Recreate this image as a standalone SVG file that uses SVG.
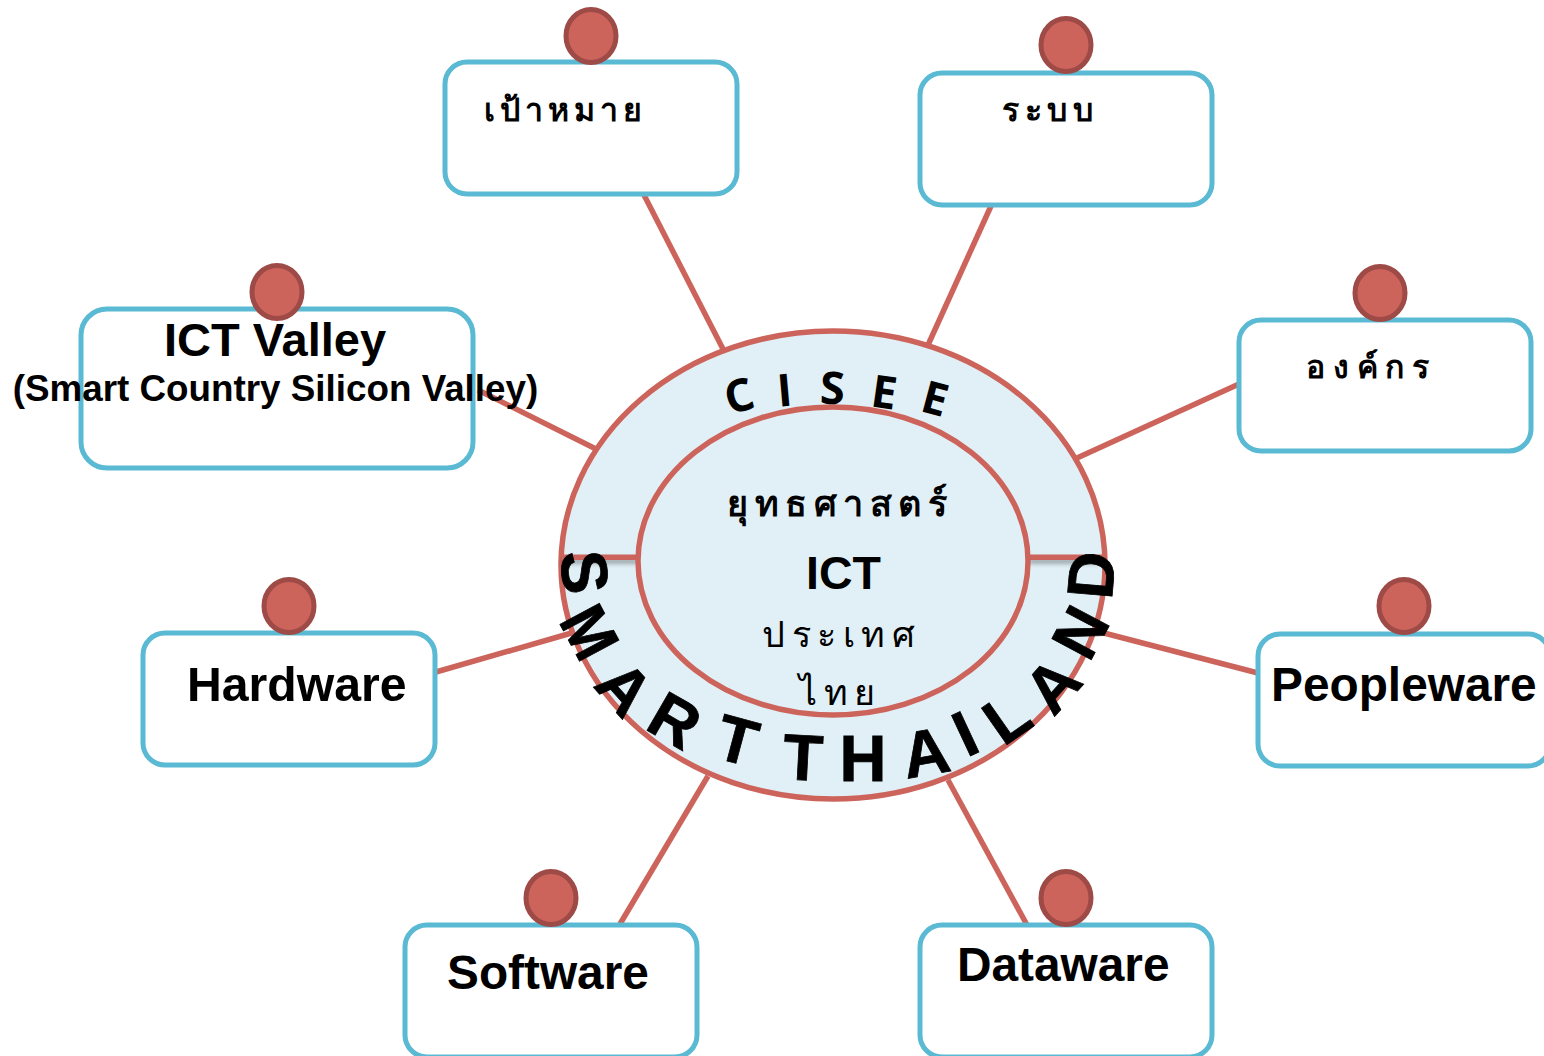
<svg xmlns="http://www.w3.org/2000/svg" width="1544" height="1056" viewBox="0 0 1544 1056">
<defs>
<style>
.box{fill:#fff;stroke:#5ab9d3;stroke-width:5}
.dot{fill:#cc645c;stroke:#9e4a46;stroke-width:5}
.conn{stroke:#cc645c;stroke-width:5.500;fill:none}
.ring{fill:#e1f0f6;stroke:#cc645c;stroke-width:5.500}
.bar{fill:#cc645c}
.en{font-family:"Liberation Sans",Arial,sans-serif;font-weight:700;fill:#000;font-size:47.800px}
.th{font-family:"Noto Sans","DejaVu Sans",Tahoma,sans-serif;font-weight:700;fill:#000;font-size:32px;letter-spacing:5px}
.hub{font-family:"Noto Sans","DejaVu Sans",Tahoma,sans-serif;fill:#000;font-size:36px;letter-spacing:6.500px}
.arc{font-family:"Liberation Sans",Arial,sans-serif;font-weight:700;fill:#000;stroke:#000;stroke-width:.8;font-size:65px;text-anchor:middle}
.top{font-family:"Open Sans",sans-serif;font-weight:700;fill:#000;font-size:45px;text-anchor:middle}
</style>
<filter id="sh" x="-20%" y="-100%" width="140%" height="400%"><feDropShadow dx="0" dy="4" stdDeviation="2" flood-color="#000" flood-opacity=".3"/></filter>
</defs>
<g id="connectors">
<line class="conn" x1="644" y1="195" x2="723" y2="349"/>
<line class="conn" x1="991" y1="206" x2="928" y2="345"/>
<line class="conn" x1="1239" y1="384" x2="1077" y2="458"/>
<line class="conn" x1="478" y1="390" x2="596" y2="449"/>
<line class="conn" x1="436" y1="672" x2="575" y2="632"/>
<line class="conn" x1="1100" y1="632" x2="1258" y2="673"/>
<line class="conn" x1="708" y1="776" x2="620" y2="924"/>
<line class="conn" x1="948" y1="780" x2="1027" y2="925"/>
</g>
<g id="hub-node">
<ellipse class="ring" cx="833" cy="565" rx="272" ry="234"/>
<rect class="bar" x="562" y="554.500" width="76" height="5.500" filter="url(#sh)"/>
<rect class="bar" x="1029" y="554.500" width="76" height="5.500" filter="url(#sh)"/>
<ellipse class="ring" cx="833" cy="561" rx="195" ry="154"/>
<text class="hub" x="727" y="516" font-weight="700">ยุทธศาสตร์</text>
<text class="en" x="806" y="589" style="font-size:46.500px">ICT</text>
<text class="hub" x="762" y="647">ประเทศ</text>
<text class="hub" x="799" y="705">ไทย</text>
<g id="cisee">
<text class="top" transform="translate(743,411) rotate(-15)">C</text>
<text class="top" transform="translate(786,406) rotate(-5)">I</text>
<text class="top" transform="translate(832,404) rotate(2)">S</text>
<text class="top" transform="translate(882,408) rotate(8)">E</text>
<text class="top" transform="translate(931,414) rotate(15)">E</text>
</g>
<g id="smart-thailand">
<text class="arc" transform="translate(585,572) rotate(85) translate(0,23)">S</text>
<text class="arc" transform="translate(590,632) rotate(62) scale(.92,1) translate(0,23)">M</text>
<text class="arc" transform="translate(625,688) rotate(48) translate(0,23)">A</text>
<text class="arc" transform="translate(675,720) rotate(30) translate(0,23)">R</text>
<text class="arc" transform="translate(737.500,740) rotate(15) translate(0,23)">T</text>
<text class="arc" transform="translate(803,757) rotate(3) translate(0,23)">T</text>
<text class="arc" transform="translate(863,758) translate(0,23)">H</text>
<text class="arc" transform="translate(925.600,752) rotate(-10) translate(0,23)">A</text>
<text class="arc" transform="translate(965,733) rotate(-25) translate(0,23)">I</text>
<text class="arc" transform="translate(1006.500,717) rotate(-35) translate(0,23)">L</text>
<text class="arc" transform="translate(1052,685) rotate(-48) translate(0,23)">A</text>
<text class="arc" transform="translate(1080,632) rotate(-62) translate(0,23)">N</text>
<text class="arc" transform="translate(1091,575) rotate(-85) translate(0,23)">D</text>
</g>
</g>
<g id="node-goal"><rect class="box" x="445" y="62" width="292" height="132" rx="22"/><ellipse class="dot" cx="591" cy="36" rx="25" ry="26.500"/><text class="th" x="484" y="121">เป้าหมาย</text></g>
<g id="node-system"><rect class="box" x="920" y="73" width="292" height="132" rx="22"/><ellipse class="dot" cx="1066" cy="45" rx="25" ry="26.500"/><text class="th" x="1002" y="121" style="letter-spacing:5.500px">ระบบ</text></g>
<g id="node-org"><rect class="box" x="1239" y="320" width="292" height="131" rx="22"/><ellipse class="dot" cx="1380" cy="293" rx="25" ry="26.500"/><text class="th" x="1306" y="378" style="letter-spacing:7.800px">องค์กร</text></g>
<g id="node-valley"><rect class="box" x="81" y="309" width="392" height="159" rx="26"/><ellipse class="dot" cx="277" cy="292" rx="25" ry="26.500"/><text class="en" x="275" y="356" text-anchor="middle" style="font-size:47px">ICT Valley</text><text class="en" x="275.500" y="401" text-anchor="middle" style="font-size:36.800px">(Smart Country Silicon Valley)</text></g>
<g id="node-hardware"><rect class="box" x="143" y="633" width="292" height="132" rx="22"/><ellipse class="dot" cx="289" cy="606" rx="25" ry="26.500"/><text class="en" x="187" y="701" style="font-size:48.200px">Hardware</text></g>
<g id="node-peopleware"><rect class="box" x="1258" y="634" width="292" height="132" rx="22"/><ellipse class="dot" cx="1404" cy="606" rx="25" ry="26.500"/><text class="en" x="1271" y="701">Peopleware</text></g>
<g id="node-software"><rect class="box" x="405" y="925" width="292" height="132" rx="22"/><ellipse class="dot" cx="551" cy="898" rx="25" ry="26.500"/><text class="en" x="447" y="989">Software</text></g>
<g id="node-dataware"><rect class="box" x="920" y="925" width="292" height="132" rx="22"/><ellipse class="dot" cx="1066" cy="898" rx="25" ry="26.500"/><text class="en" x="957" y="981">Dataware</text></g>
</svg>
